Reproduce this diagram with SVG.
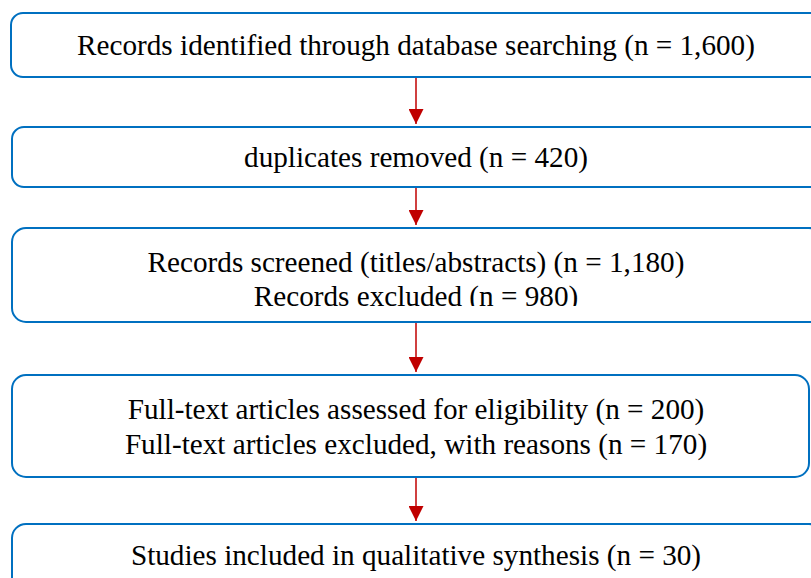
<svg xmlns="http://www.w3.org/2000/svg" width="811" height="578" viewBox="0 0 811 578">
<style>
.box{fill:#fff;stroke:#0070C0;stroke-width:2}
.t{font-family:"Liberation Serif","Times New Roman",serif;font-size:29.2px;fill:#000;text-anchor:middle}
.arr{stroke:#C00000;stroke-width:1.5;fill:none;marker-end:url(#ah)}
</style>
<defs>
<marker id="ah" markerWidth="15" markerHeight="15" refX="15" refY="7.5" orient="auto" markerUnits="userSpaceOnUse" viewBox="0 0 15 15">
<path d="M0,0 L15,7.5 L0,15 Z" fill="#C00000"/>
</marker>
<clipPath id="c3"><rect x="0" y="0" width="811" height="306"/></clipPath>
</defs>
<rect width="811" height="578" fill="#fff"/>
<g id="n1"><rect class="box" x="11" y="13" width="812" height="64" rx="12"/><text class="t" x="416" y="55">Records identified through database searching (n = 1,600)</text></g>
<g id="n2"><rect class="box" x="12" y="127" width="811" height="60" rx="12"/><text class="t" x="416" y="167">duplicates removed (n = 420)</text></g>
<g id="n3"><rect class="box" x="12" y="228" width="811" height="94" rx="14"/><g clip-path="url(#c3)"><text class="t" x="416" y="272">Records screened (titles/abstracts) (n = 1,180)</text><text class="t" x="416" y="306">Records excluded (n = 980)</text></g></g>
<g id="n4"><rect class="box" x="12" y="375" width="797" height="102" rx="14"/><text class="t" x="416" y="419">Full-text articles assessed for eligibility (n = 200)</text><text class="t" x="416" y="454">Full-text articles excluded, with reasons (n = 170)</text></g>
<g id="n5"><rect class="box" x="12" y="524" width="811" height="80" rx="14"/><text class="t" x="416" y="565">Studies included in qualitative synthesis (n = 30)</text></g>
<g id="edges">
<line class="arr" x1="416" y1="78" x2="416" y2="124"/>
<line class="arr" x1="416" y1="188" x2="416" y2="225"/>
<line class="arr" x1="416" y1="323" x2="416" y2="372"/>
<line class="arr" x1="416" y1="478" x2="416" y2="521"/>
</g>
</svg>
